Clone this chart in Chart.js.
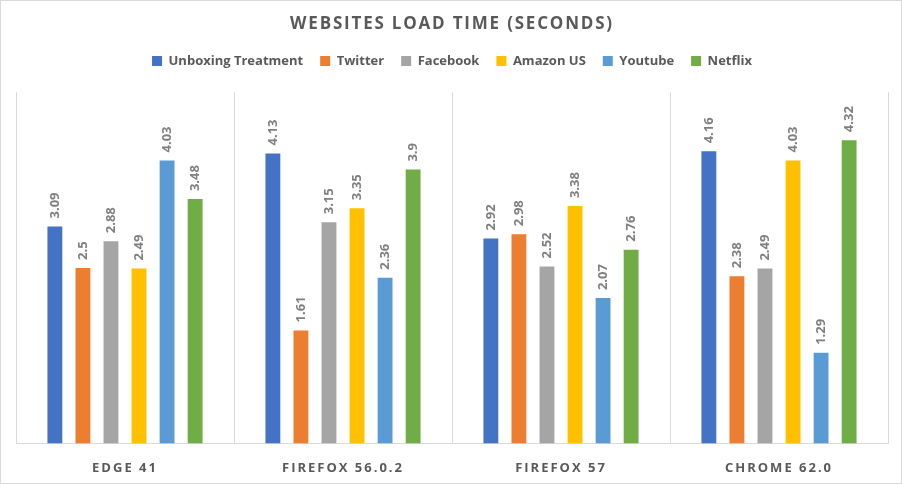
<!DOCTYPE html>
<html>
<head>
<meta charset="utf-8">
<script src="https://cdn.jsdelivr.net/npm/chart.js@4/dist/chart.umd.min.js"></script>
<style>
html,body{margin:0;padding:0;background:#fff;}
#wrap{width:902px;height:484px;position:relative;}
</style>
</head>
<body>
<div id="wrap"><canvas id="c" width="902" height="484"></canvas></div>
<script>
const categories = ["EDGE 41", "FIREFOX 56.0.2", "FIREFOX 57", "CHROME 62.0"];
const seriesNames = ["Unboxing Treatment", "Twitter", "Facebook", "Amazon US", "Youtube", "Netflix"];
const unboxing = [3.09, 4.13, 2.92, 4.16];
const twitter = [2.5, 1.61, 2.98, 2.38];
const facebook = [2.88, 3.15, 2.52, 2.49];
const amazonUS = [2.49, 3.35, 3.38, 4.03];
const youtube = [4.03, 2.36, 2.07, 1.29];
const netflix = [3.48, 3.9, 2.76, 4.32];
const colors = ["#4472C4", "#ED7D31", "#A5A5A5", "#FFC000", "#5B9BD5", "#70AD47"];
const allSeries = [unboxing, twitter, facebook, amazonUS, youtube, netflix];

const textColor = "#595959";
const fontFam = "'Open Sans', 'DejaVu Sans', sans-serif";

const spacingPlugin = {
  id: 'spacing',
  beforeLayout(chart) {
    const lg = chart.legend;
    if (lg && !lg._wf) {
      const of = lg.fit.bind(lg);
      lg.fit = function () { of(); this.height += 15; };
      lg._wf = true;
    }
  },
  beforeDraw(chart) {
    const wrap = (obj, name, sp) => {
      if (!obj || obj['_w_' + name]) return;
      const orig = obj[name].bind(obj);
      obj[name] = function (...args) {
        const ctx = chart.ctx;
        ctx.save();
        ctx.letterSpacing = sp;
        orig(...args);
        ctx.restore();
      };
      obj['_w_' + name] = true;
    };
    wrap(chart.scales.x, 'drawLabels', '2px');
    wrap(chart.titleBlock, 'draw', '1.8px');
  }
};

const frame = {
  id: 'frame',
  afterDraw(chart) {
    const ctx = chart.ctx;
    ctx.save();
    ctx.strokeStyle = '#d9d9d9';
    ctx.lineWidth = 1;
    ctx.strokeRect(0.5, 0.5, chart.width - 1, chart.height - 1);
    ctx.restore();
  }
};

const dataLabels = {
  id: 'dlabels',
  afterDatasetsDraw(chart) {
    const ctx = chart.ctx;
    ctx.save();
    ctx.fillStyle = '#7F7F7F';
    ctx.font = "bold 13px " + fontFam;
    ctx.textAlign = 'left';
    ctx.textBaseline = 'middle';
    chart.data.datasets.forEach((ds, di) => {
      const meta = chart.getDatasetMeta(di);
      meta.data.forEach((bar, i) => {
        ctx.save();
        ctx.translate(bar.x, bar.y - 8);
        ctx.rotate(-Math.PI / 2);
        ctx.fillText(String(ds.data[i]), 0, 0);
        ctx.restore();
      });
    });
    ctx.restore();
  }
};

new Chart(document.getElementById('c'), {
  type: 'bar',
  data: {
    labels: categories,
    datasets: seriesNames.map((n, i) => ({
      label: n,
      data: allSeries[i],
      backgroundColor: colors[i],
      borderWidth: 0,
      categoryPercentage: 0.772,
      barPercentage: 0.53
    }))
  },
  options: {
    responsive: false,
    animation: false,
    devicePixelRatio: 1,
    layout: { padding: { left: 16, right: 14, top: 8, bottom: -9 } },
    plugins: {
      title: {
        display: true,
        text: "WEBSITES LOAD TIME (SECONDS)",
        color: textColor,
        font: { family: fontFam, size: 17, weight: 'bold' },
        padding: { top: 6, bottom: 3 }
      },
      legend: {
        display: true,
        labels: {
          color: textColor,
          font: { family: fontFam, size: 13, weight: 'bold' },
          boxWidth: 10,
          boxHeight: 10,
          padding: 17
        }
      },
      tooltip: { enabled: false }
    },
    scales: {
      x: {
        grid: { display: true, color: '#d9d9d9', drawTicks: false, offset: true },
        border: { display: true, color: '#d9d9d9' },
        ticks: {
          color: textColor,
          font: { family: fontFam, size: 13, weight: 'bold' },
          padding: 17
        }
      },
      y: {
        display: false,
        min: 0,
        max: 5
      }
    }
  },
  plugins: [spacingPlugin, dataLabels, frame]
});
</script>
</body>
</html>
